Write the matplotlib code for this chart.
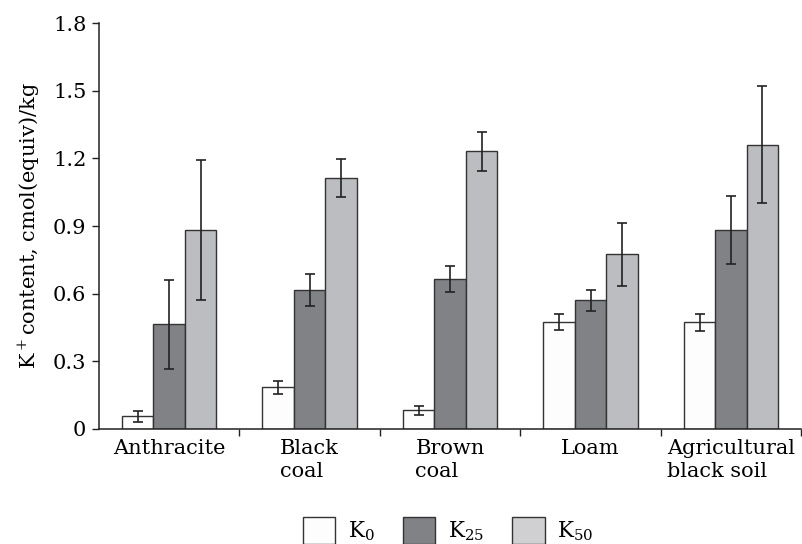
import numpy as np
import matplotlib
matplotlib.use("Agg")
import matplotlib.pyplot as plt
from matplotlib.ticker import FixedLocator

plt.rcParams['font.family'] = ['DejaVu Serif']
plt.rcParams['mathtext.fontset'] = 'dejavuserif'

categories = ['Anthracite', 'Black\ncoal', 'Brown\ncoal', 'Loam', 'Agricultural\nblack soil']
series = ['$\\mathrm{K_0}$', '$\\mathrm{K_{25}}$', '$\\mathrm{K_{50}}$']
k0 = [0.056, 0.185, 0.083, 0.474, 0.474]
k0_err = [0.025, 0.028, 0.021, 0.037, 0.038]
k25 = [0.464, 0.615, 0.665, 0.570, 0.882]
k25_err = [0.196, 0.071, 0.059, 0.045, 0.150]
k50 = [0.882, 1.113, 1.232, 0.774, 1.260]
k50_err = [0.310, 0.085, 0.086, 0.138, 0.260]

colors = ['#fdfdfd', '#808285', '#bcbdc0']
edge = '#333333'

fig = plt.figure(figsize=(8.02, 5.44), dpi=100)
ax = fig.add_axes([0.1234, 0.2114, 0.8756, 0.7463])

x = np.arange(len(categories))
w = 0.224
for i, (vals, errs) in enumerate([(k0, k0_err), (k25, k25_err), (k50, k50_err)]):
    ax.bar(x + (i - 1) * w, vals, w, color=colors[i], edgecolor=edge, linewidth=1.0,
           label=series[i], zorder=2)
    ax.errorbar(x + (i - 1) * w, vals, yerr=errs, fmt='none', ecolor='#222222',
                elinewidth=1.2, capsize=3.3, capthick=1.2, zorder=3)

ax.set_xlim(-0.5, 4.5)
ax.set_ylim(0, 1.8)
ax.set_yticks([0, 0.3, 0.6, 0.9, 1.2, 1.5, 1.8])
ax.set_yticklabels(['0', '0.3', '0.6', '0.9', '1.2', '1.5', '1.8'])
ax.set_xticks(x)
ax.set_xticklabels(categories, multialignment='left', linespacing=1.3)
ax.xaxis.set_minor_locator(FixedLocator([0.5, 1.5, 2.5, 3.5, 4.5]))
ax.tick_params(axis='x', which='major', length=0, pad=7, labelsize=15)
ax.tick_params(axis='x', which='minor', length=5, width=1.0, color='#222222')
ax.tick_params(axis='y', length=5, width=1.0, color='#222222', labelsize=15, pad=4)

for s in ['top', 'right']:
    ax.spines[s].set_visible(False)
for s in ['left', 'bottom']:
    ax.spines[s].set_color('#222222')
    ax.spines[s].set_linewidth(1.1)

ax.set_ylabel('K$^+$content, cmol(equiv)/kg', fontsize=15, labelpad=8)

leg = fig.legend(loc='center', bbox_to_anchor=(0.559, 0.025), ncol=3, frameon=False,
                 fontsize=15.5, handlelength=1.5, handleheight=1.5, columnspacing=1.3,
                 handletextpad=0.6)
leg.legend_handles[2].set_facecolor('#d0d0d2')

fig.savefig('out.png', dpi=100)
